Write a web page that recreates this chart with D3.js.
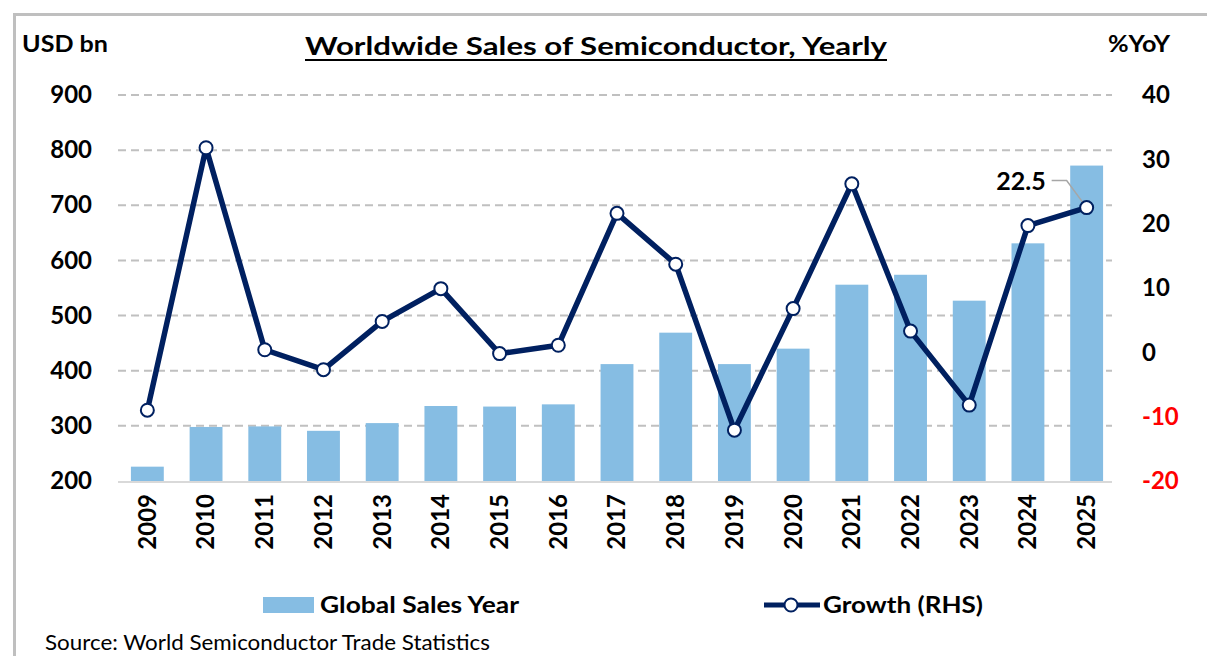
<!DOCTYPE html>
<html>
<head>
<meta charset="utf-8">
<script src="https://cdn.jsdelivr.net/npm/d3@7"></script>
<style>
  html, body { margin: 0; padding: 0; background: #fff; }
  svg { display: block; }
  text { font-family: Lato, "Open Sans", sans-serif; }
</style>
</head>
<body>
<svg id="chart" width="1207" height="656"></svg>
<script>
const years = ["2009","2010","2011","2012","2013","2014","2015","2016","2017","2018","2019","2020","2021","2022","2023","2024","2025"];
const sales = [226, 298, 299, 291, 305, 336, 335, 339, 412, 469, 412, 440, 556, 574, 527, 631, 772];
const growth = [-9.0, 31.8, 0.4, -2.7, 4.8, 9.9, -0.2, 1.1, 21.6, 13.7, -12.1, 6.8, 26.2, 3.3, -8.2, 19.7, 22.5];
const leftTicks = [200, 300, 400, 500, 600, 700, 800, 900];
const rightTicks = [-20, -10, 0, 10, 20, 30, 40];

const svg = d3.select("#chart");
const L = 118, R = 1116, T = 95, B = 481;

const x = d3.scaleBand().domain(years).range([L, R]).paddingInner(0.44).paddingOuter(0.22);
const yL = d3.scaleLinear().domain([200, 900]).range([B, T]);
const yR = d3.scaleLinear().domain([-20, 40]).range([B, T]);

// outer border
svg.append("rect").attr("x", 14.5).attr("y", 14.5).attr("width", 1250).attr("height", 700)
  .attr("fill", "none").attr("stroke", "#bfbfbf").attr("stroke-width", 3);

// gridlines
svg.append("g").selectAll("line").data(leftTicks.filter(d => d > 200)).join("line")
  .attr("x1", L).attr("x2", R - 4)
  .attr("y1", d => yL(d)).attr("y2", d => yL(d))
  .attr("stroke", "#c0c0c0").attr("stroke-width", 2).attr("stroke-dasharray", "8,5");

// bars
svg.append("g").selectAll("rect").data(years).join("rect")
  .attr("x", d => x(d)).attr("width", x.bandwidth())
  .attr("y", (d, i) => yL(sales[i])).attr("height", (d, i) => B - yL(sales[i]))
  .attr("fill", "#86BDE3");

// x axis line
svg.append("line").attr("x1", L).attr("x2", R - 4).attr("y1", B + 1).attr("y2", B + 1)
  .attr("stroke", "#d9d9d9").attr("stroke-width", 2);

// left axis labels
const leftAxis = d3.axisLeft(yL).tickValues(leftTicks).tickSize(0).tickPadding(0).tickFormat(d => String(d));
const gL = svg.append("g").attr("transform", `translate(92,0)`).call(leftAxis);
gL.select(".domain").remove();
gL.selectAll("text").attr("font-size", 24).attr("font-weight", 700).attr("fill", "#000")
  .attr("font-family", "Lato, sans-serif");

// right axis labels
const rightAxis = d3.axisRight(yR).tickValues(rightTicks).tickSize(0).tickPadding(0).tickFormat(d => String(d));
const gR = svg.append("g").attr("transform", `translate(1142,0)`).call(rightAxis);
gR.select(".domain").remove();
gR.selectAll("text").attr("font-size", 24).attr("font-weight", 700)
  .attr("font-family", "Lato, sans-serif")
  .attr("fill", d => d < 0 ? "#FF0000" : "#000");

// x axis labels
const xAxis = d3.axisBottom(x).tickSize(0).tickPadding(0);
const gX = svg.append("g").attr("transform", `translate(0,${B})`).call(xAxis);
gX.select(".domain").remove();
gX.selectAll("text")
  .attr("font-size", 24).attr("font-weight", 700).attr("fill", "#000")
  .attr("font-family", "Lato, sans-serif")
  .attr("text-anchor", "end").attr("dy", "0.35em").attr("y", 0)
  .attr("transform", "translate(0,13) rotate(-90)");

// growth line
const line = d3.line().x((d, i) => x(years[i]) + x.bandwidth() / 2).y(d => yR(d));
svg.append("path").datum(growth).attr("d", line)
  .attr("fill", "none").attr("stroke", "#002060").attr("stroke-width", 5.5).attr("stroke-linejoin", "round");

// leader line for annotation
const lx = x("2025") + x.bandwidth() / 2, ly = yR(growth[16]);
svg.append("path")
  .attr("d", `M${lx - 35},${ly - 27} L${lx - 20},${ly - 27} L${lx},${ly}`)
  .attr("fill", "none").attr("stroke", "#a6a6a6").attr("stroke-width", 1.5);

svg.append("g").selectAll("circle").data(growth).join("circle")
  .attr("cx", (d, i) => x(years[i]) + x.bandwidth() / 2).attr("cy", d => yR(d))
  .attr("r", 6.5).attr("fill", "#fff").attr("stroke", "#002060").attr("stroke-width", 2);

svg.append("text").attr("x", lx - 41).attr("y", ly - 18).attr("text-anchor", "end")
  .attr("font-size", 25).attr("font-weight", 700).attr("fill", "#000").text("22.5");

// titles
svg.append("text").attr("x", 596).attr("y", 55).attr("text-anchor", "middle")
  .attr("font-size", 25).attr("font-weight", 700).attr("fill", "#000")
  .attr("textLength", 582).attr("lengthAdjust", "spacingAndGlyphs")
  .text("Worldwide Sales of Semiconductor, Yearly");
svg.append("line").attr("x1", 305).attr("x2", 887).attr("y1", 60).attr("y2", 60)
  .attr("stroke", "#000").attr("stroke-width", 2);

svg.append("text").attr("x", 22).attr("y", 52)
  .attr("font-size", 22).attr("font-weight", 700).attr("fill", "#000")
  .attr("textLength", 86).attr("lengthAdjust", "spacingAndGlyphs").text("USD bn");
svg.append("text").attr("x", 1108).attr("y", 52)
  .attr("font-size", 22).attr("font-weight", 700).attr("fill", "#000")
  .attr("textLength", 62).attr("lengthAdjust", "spacingAndGlyphs").text("%YoY");

// legend
svg.append("rect").attr("x", 263).attr("y", 597).attr("width", 51).attr("height", 16).attr("fill", "#86BDE3");
svg.append("text").attr("x", 320).attr("y", 613)
  .attr("font-size", 23).attr("font-weight", 700).attr("fill", "#000")
  .attr("textLength", 199).attr("lengthAdjust", "spacingAndGlyphs").text("Global Sales Year");
svg.append("line").attr("x1", 764).attr("x2", 820).attr("y1", 605).attr("y2", 605)
  .attr("stroke", "#002060").attr("stroke-width", 5);
svg.append("circle").attr("cx", 791).attr("cy", 605).attr("r", 6.5)
  .attr("fill", "#fff").attr("stroke", "#002060").attr("stroke-width", 2);
svg.append("text").attr("x", 823).attr("y", 613)
  .attr("font-size", 23).attr("font-weight", 700).attr("fill", "#000")
  .attr("textLength", 160).attr("lengthAdjust", "spacingAndGlyphs").text("Growth (RHS)");

// source
svg.append("text").attr("x", 45).attr("y", 650)
  .attr("font-size", 21).attr("fill", "#000")
  .attr("textLength", 445).attr("lengthAdjust", "spacingAndGlyphs")
  .text("Source: World Semiconductor Trade Statistics");
</script>
</body>
</html>
